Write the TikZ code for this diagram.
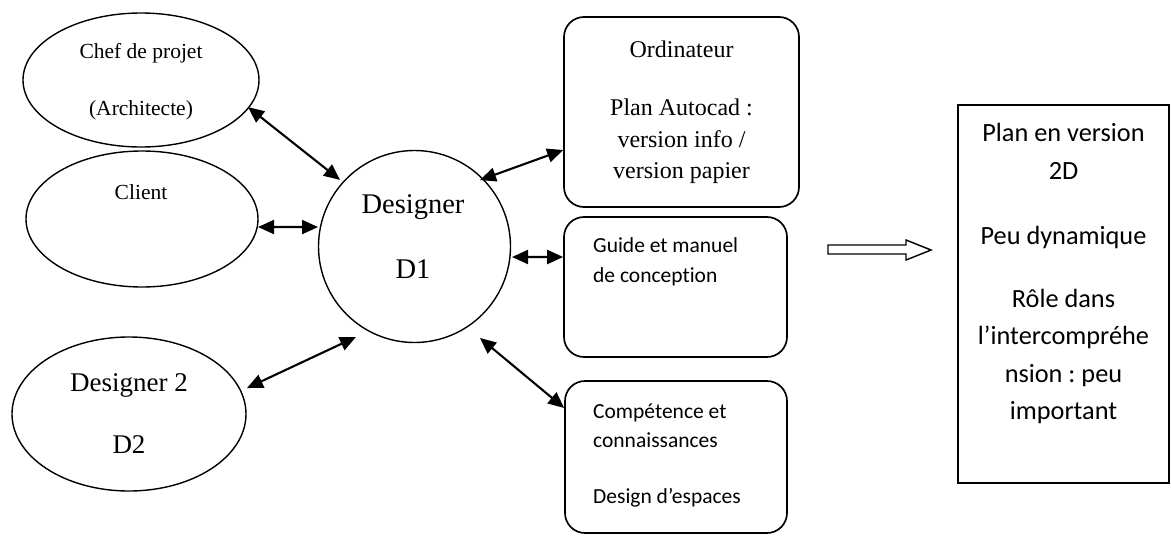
\documentclass[tikz,border=0pt]{standalone}
\usepackage{fontspec}
\setmainfont{Liberation Serif}
\newfontfamily\calib[Ligatures=NoCommon]{Carlito}
\frenchspacing
\usetikzlibrary{shapes.geometric,arrows.meta,calc}
\begin{document}
\begin{tikzpicture}[x=1pt,y=-1pt,
  outl/.style={draw,line width=1.4pt,inner sep=0pt},
  ell/.style={outl,ellipse},
  rbox/.style={draw,line width=1.7pt,inner sep=0pt,rectangle,rounded corners=20pt},
  txt/.style={inner sep=0pt,align=center},
  link/.style={line width=2.1pt,{Triangle[length=16pt,width=14pt]}-{Triangle[length=16pt,width=14pt]}}]
\useasboundingbox (0,0) rectangle (1171,536);

% left ellipses
\node[ell,minimum width=236pt,minimum height=134pt] (chef) at (141,80) {};
\node[txt,font=\fontsize{21.5}{57}\selectfont] (chefT) at (141,81.5) {Chef de projet\\(Architecte)};

\node[ell,minimum width=232pt,minimum height=136pt] (client) at (142,219) {};
\node[txt,font=\fontsize{21.5}{26}\selectfont] (clientT) at (141,192) {Client};

\node[ell,minimum width=234pt,minimum height=154pt] (d2) at (129,414) {};
\node[txt,font=\fontsize{27}{62}\selectfont] (d2T) at (129,414) {Designer 2\\D2};

% central circle
\node[outl,circle,minimum size=192pt] (d1) at (414.5,246.5) {};
\node[txt,font=\fontsize{28.5}{65}\selectfont] (d1T) at (413,236.5) {Designer\\D1};

% right rounded boxes
\node[rbox,minimum width=235pt,minimum height=190pt] (ord) at (681.5,112) {};
\node[txt,font=\fontsize{24}{31.5}\selectfont] (ordT) at (681.5,112.5)
  {Ordinateur\\[26.5pt]Plan Autocad :\\version info /\\version papier};

\node[rbox,minimum width=223pt,minimum height=140pt] (guide) at (675.5,287) {};
\node[txt,align=left,anchor=west,font=\calib\fontsize{21.5}{30}\selectfont] (guideT) at (593,262)
  {Guide et manuel\\de conception};

\node[rbox,minimum width=222pt,minimum height=152pt] (comp) at (676,457) {};
\node[txt,align=left,anchor=west,font=\calib\fontsize{21.5}{29}\selectfont] (compT) at (593,455.5)
  {Compétence et\\connaissances\\[27pt]Design d’espaces};

% result box
\node[draw,line width=1.7pt,inner sep=0pt,rectangle,minimum width=211pt,minimum height=378pt] (res) at (1063.5,294) {};
\node[txt,font=\calib\fontsize{26.3}{37.5}\selectfont] (resT) at (1063.5,273.5)
  {Plan en version\\2D\\[27.5pt]Peu dynamique\\[25.5pt]Rôle dans\\l’intercompréhe\\nsion : peu\\important};

% connectors
\draw[link] ($(chef.center)+(-14.2:110.4pt)$) -- ($(d1.center)+(138.2:99.9pt)$);
\draw[link] ($(client.center)+(-3.95:116.3pt)$) -- ($(d1.center)+(168.6:98.4pt)$);
\draw[link] ($(d2.center)+(12.4:120.8pt)$) -- ($(d1.center)+(237.1:107.8pt)$);
\draw[link] ($(d1.center)+(45.4:93.3pt)$) -- ($(ord.west)+(0,38)$);
\draw[link] ($(d1.center)+(-6.15:98.1pt)$) -- ($(guide.west)+(0,-30)$);
\draw[link] ($(d1.center)+(-54.4:112.5pt)$) -- ($(comp.west)+(0,-49)$);

% hollow block arrow
\draw[line width=1.4pt,line join=miter] (828,245) -- (906,245) -- (906,240) -- (931,250) -- (906,260) -- (906,254) -- (828,254) -- cycle;
\end{tikzpicture}
\end{document}
